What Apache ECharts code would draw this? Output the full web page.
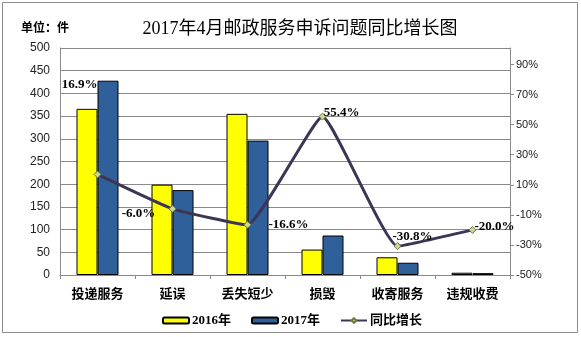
<!DOCTYPE html>
<html><head><meta charset="utf-8">
<script src="https://cdn.jsdelivr.net/npm/echarts@6/dist/echarts.min.js"></script>
<style>html,body{margin:0;padding:0;background:#fff}#c{width:581px;height:337px}</style>
</head><body><div id="c"></div>
<script>
const categories = ['投递服务','延误','丢失短少','损毁','收寄服务','违规收费'];
const values2016 = [366, 199, 355, 56, 39, 5];
const values2017 = [428, 187, 296, 87, 27, 4];
const growth = [16.9, -6.0, -16.6, 55.4, -30.8, -20.0];
const leftTicks = {min: 0, max: 500, interval: 50};
const rightTicks = {min: -50, max: 101, interval: 20};
const labelOffsets = [[-18,-90],[-34,5],[41,0],[19,-4],[15,-9],[22,-3]];

const chart = echarts.init(document.getElementById('c'), null, {renderer:'canvas'});
const serif = 'Liberation Serif, "Noto Sans CJK SC", serif';
const cjk = '"Noto Sans CJK SC", sans-serif';
const gridColor = '#8a8a8a';
chart.setOption({
  animation: false,
  backgroundColor: '#fff',
  graphic: [{type:'rect', shape:{x:2.5,y:2.5,width:575,height:330}, style:{fill:'none', stroke:'#8c8c8c', lineWidth:1}, silent:true}],
  title: [{
    text: '2017年4月邮政服务申诉问题同比增长图', left: 295, top: 15, textAlign: 'center',
    textStyle: {fontFamily: serif, fontSize: 18, fontWeight: 'normal', color: '#000'}
  },{
    text: '单位：件', left: 16, top: 16,
    textStyle: {fontFamily: cjk, fontSize: 12, fontWeight: 'bold', color: '#000'}
  }],
  legend: {
    left: 157, top: 309, itemWidth: 26, itemHeight: 6, itemGap: 20,
    textStyle: {fontFamily: serif, fontSize: 13, fontWeight: 'bold', color: '#000', padding:[0,0,0,-2]},
    data: ['2016年','2017年','同比增长']
  },
  grid: {left: 60, right: 71, top: 48, bottom: 62},
  xAxis: {
    type: 'category', data: categories, boundaryGap: true,
    axisLine: {lineStyle: {color: gridColor}},
    axisTick: {show: true, length: 4, lineStyle: {color: gridColor}},
    axisLabel: {fontFamily: cjk, fontSize: 13, fontWeight: 'bold', color: '#000', margin: 12}
  },
  yAxis: [{
    type: 'value', min: leftTicks.min, max: leftTicks.max, interval: leftTicks.interval,
    axisLine: {show: true, lineStyle: {color: gridColor}},
    axisTick: {show: false},
    splitLine: {lineStyle: {color: gridColor, width: 1}},
    axisLabel: {fontFamily: 'Liberation Sans, Arial, sans-serif', fontSize: 12, color: '#222', margin: 10}
  },{
    type: 'value', min: rightTicks.min, max: rightTicks.max, interval: rightTicks.interval,
    position: 'right',
    axisLine: {show: true, lineStyle: {color: gridColor}},
    axisTick: {show: true, length: 4, lineStyle: {color: gridColor}},
    splitLine: {show: false},
    axisLabel: {fontFamily: 'Liberation Sans, Arial, sans-serif', fontSize: 11, color: '#222', margin: 6,
      showMaxLabel: false, formatter: v => v + '%'}
  }],
  series: [{
    name: '2016年', type: 'bar', data: values2016, barWidth: 21, barGap: '0%',
    itemStyle: {color: '#ffff00', borderColor: '#000', borderWidth: 1}
  },{
    name: '2017年', type: 'bar', data: values2017, barWidth: 21, barGap: '0%',
    itemStyle: {color: '#30609a', borderColor: '#000', borderWidth: 1}
  },{
    name: '同比增长', type: 'line', yAxisIndex: 1, smooth: 0.12,
    data: growth.map((v, i) => ({value: v, label: {offset: labelOffsets[i]}})),
    symbol: 'diamond', symbolSize: 7,
    lineStyle: {color: '#3d3556', width: 3},
    itemStyle: {color: '#c8d89a', borderColor: '#6b7a3a', borderWidth: 1},
    label: {show: true, position: 'inside', formatter: p => p.value.toFixed(1) + '%',
      fontFamily: serif, fontSize: 13, fontWeight: 'bold', color: '#000'},
    z: 5
  }]
});
</script></body></html>
